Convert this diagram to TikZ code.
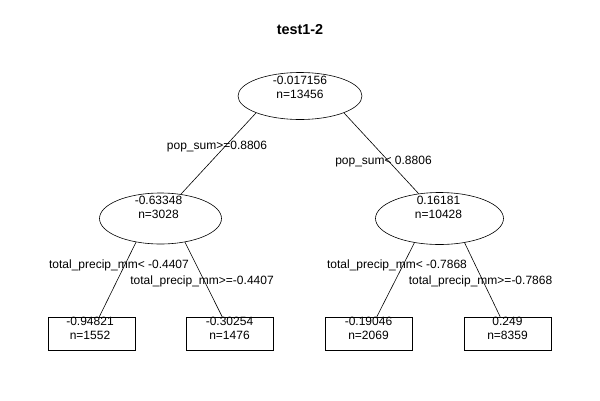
\documentclass[tikz,border=0pt]{standalone}
\usepackage{fontspec}
\setmainfont{Liberation Sans}
\usetikzlibrary{shapes.geometric}

\begin{document}
\begin{tikzpicture}[x=1pt, y=-1pt, font=\fontsize{12}{14}\selectfont,
  split/.style={draw, ellipse, inner sep=0pt, line width=0.6pt},
  leaf/.style={draw, rectangle, inner sep=0pt, line width=0.6pt, minimum width=87pt, minimum height=33pt},
  txt/.style={align=center, inner sep=0pt},
  edge/.style={line width=0.6pt}]

\useasboundingbox (0,0) rectangle (600,400);

\node[font=\fontsize{14.4}{16}\selectfont\bfseries] (title) at (300,30) {test1-2};

% split nodes
\node[split, minimum width=124pt, minimum height=47pt] (root) at (300,96) {};
\node[split, minimum width=122pt, minimum height=51pt] (lft) at (160.5,218.5) {};
\node[split, minimum width=128pt, minimum height=52pt] (rgt) at (439.5,218.5) {};
\node[txt] (root-t) at (300,87.5) {-0.017156\\n=13456};
\node[txt] (lft-t) at (158.5,207.5) {-0.63348\\n=3028};
\node[txt] (rgt-t) at (438.5,207.5) {0.16181\\n=10428};

% leaves
\node[leaf] (l1) at (91.5,333.5) {};
\node[leaf] (l2) at (230,333.5) {};
\node[leaf] (l3) at (369,333.5) {};
\node[leaf] (l4) at (508,333.5) {};
\node[txt] (l1-t) at (90,328) {-0.94821\\n=1552};
\node[txt] (l2-t) at (229.5,328) {-0.30254\\n=1476};
\node[txt] (l3-t) at (368.5,328) {-0.19046\\n=2069};
\node[txt] (l4-t) at (507.5,328) {0.249\\n=8359};

% edges
\draw[edge] (root.201) -- (lft.50);
\draw[edge] (root.339) -- (rgt.130);
\draw[edge] (lft.224) -- (l1.65);
\draw[edge] (lft.316) -- (l2.115);
\draw[edge] (rgt.224) -- (l3.65);
\draw[edge] (rgt.316) -- (l4.115);

% split labels
\node (s1) at (217,147) {pop\_sum>=0.8806};
\node (s2) at (383.5,162) {pop\_sum< 0.8806};
\node (s3) at (119,265) {total\_precip\_mm< -0.4407};
\node (s4) at (202,281) {total\_precip\_mm>=-0.4407};
\node (s5) at (397,265) {total\_precip\_mm< -0.7868};
\node (s6) at (480.5,281) {total\_precip\_mm>=-0.7868};

\end{tikzpicture}
\end{document}
